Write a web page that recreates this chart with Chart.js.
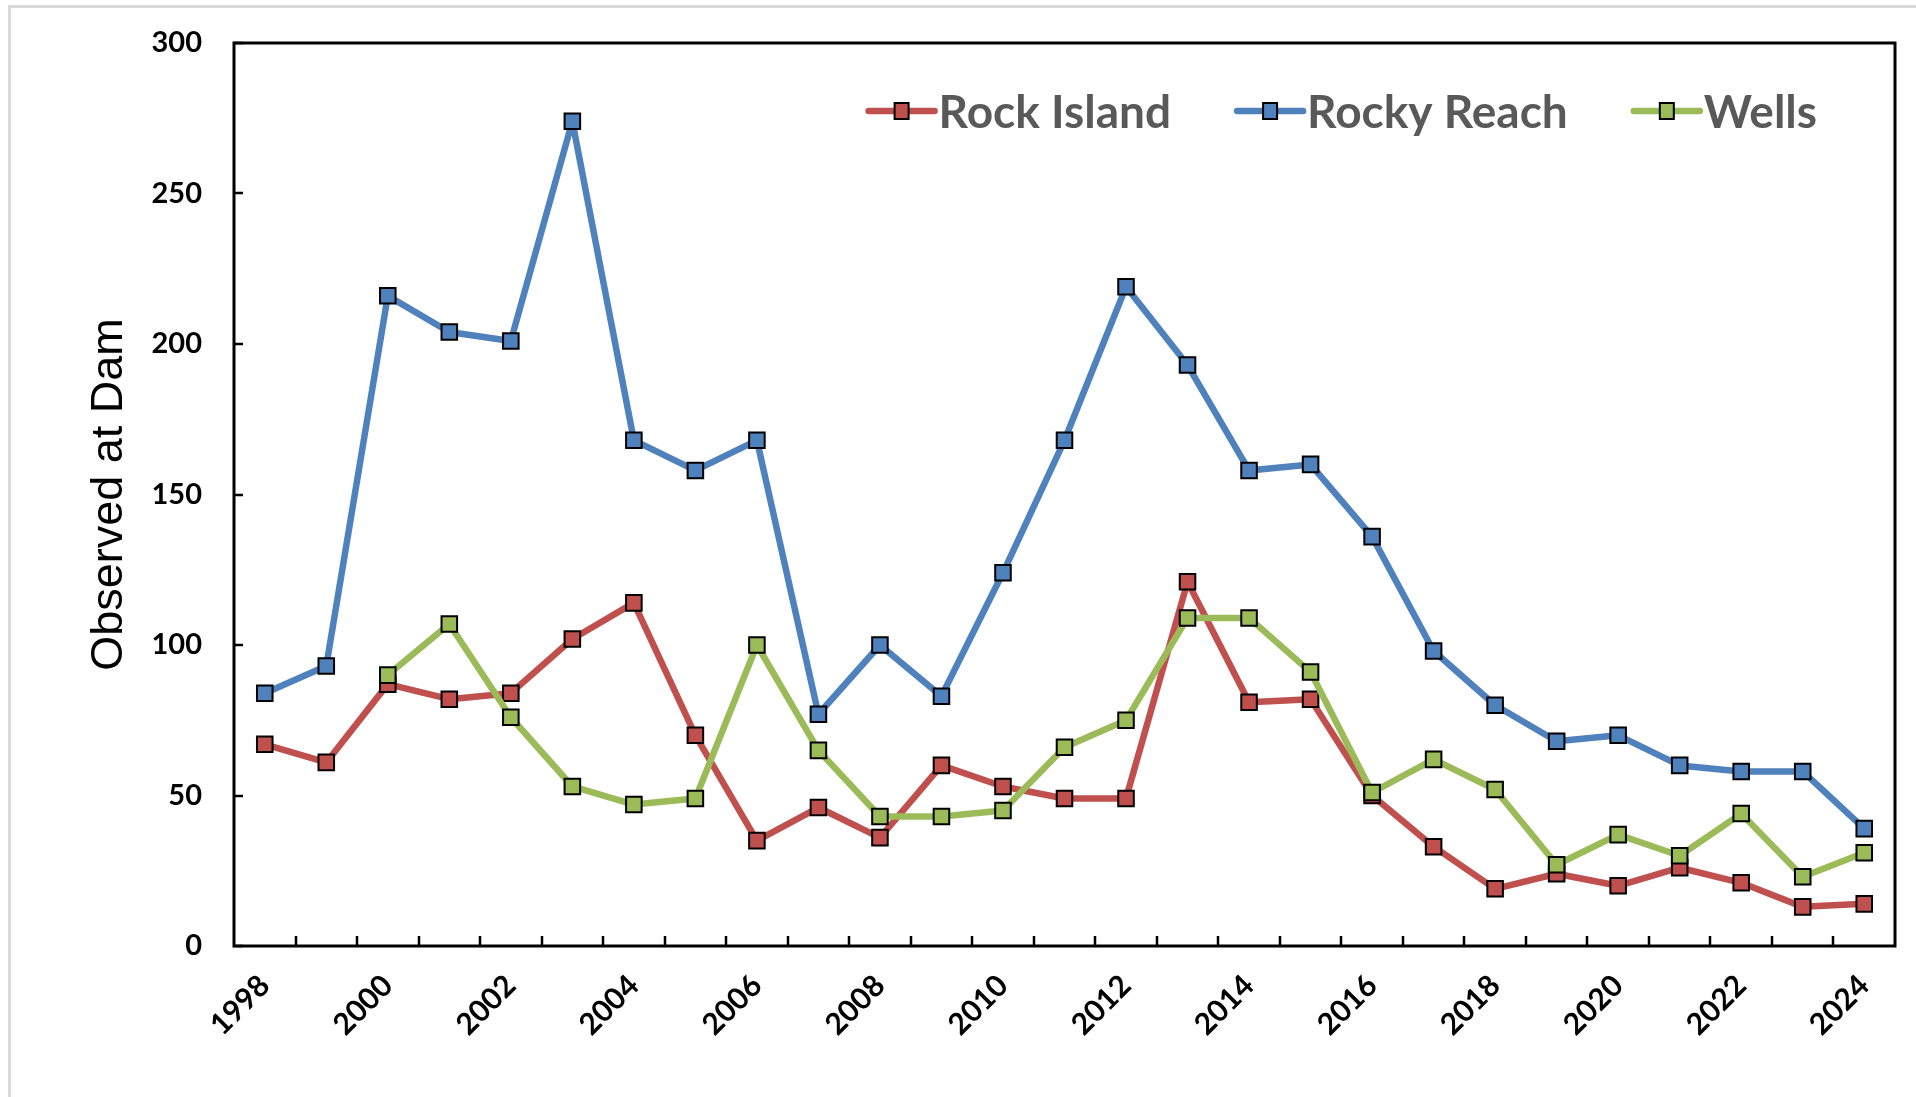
<!DOCTYPE html>
<html>
<head>
<meta charset="utf-8">
<title>Observed at Dam</title>
<script src="https://cdn.jsdelivr.net/npm/chart.js@4.4.0/dist/chart.umd.min.js"></script>
<style>
  html, body { margin: 0; padding: 0; background: #fff; overflow: hidden; }
  #frame { position: absolute; left: 8px; top: 5px; right: 0; bottom: 0; border-left: 3px solid #d9d9d9; border-top: 3px solid #d9d9d9; }
  #chart { position: absolute; left: 0; top: 0; }
</style>
</head>
<body>
<div id="frame"></div>
<canvas id="chart" width="1916" height="1097"></canvas>
<script>
// values
const years = ['1998', '1999', '2000', '2001', '2002', '2003', '2004', '2005', '2006', '2007',
  '2008', '2009', '2010', '2011', '2012', '2013', '2014', '2015', '2016', '2017',
  '2018', '2019', '2020', '2021', '2022', '2023', '2024'];
const rockIsland = [67, 61, 87, 82, 84, 102, 114, 70, 35, 46, 36, 60, 53, 49, 49, 121, 81, 82, 50, 33, 19, 24, 20, 26, 21, 13, 14];
const rockyReach = [84, 93, 216, 204, 201, 274, 168, 158, 168, 77, 100, 83, 124, 168, 219, 193, 158, 160, 136, 98, 80, 68, 70, 60, 58, 58, 39];
const wells = [null, null, 90, 107, 76, 53, 47, 49, 100, 65, 43, 43, 45, 66, 75, 109, 109, 91, 51, 62, 52, 27, 37, 30, 44, 23, 31];
const yTicks = [0, 50, 100, 150, 200, 250, 300];

const RED = '#C0504D';
const BLUE = '#4F81BD';
const GREEN = '#9BBB59';

function series(label, data, color, order) {
  return {
    label,
    data,
    order,
    borderColor: color,
    backgroundColor: color,
    borderWidth: 6.5,
    borderJoinStyle: 'round',
    borderCapStyle: 'round',
    tension: 0,
    pointStyle: 'rect',
    pointRadius: 11,
    pointBackgroundColor: color,
    pointBorderColor: '#000',
    pointBorderWidth: 2,
  };
}

// plot frame plus inward tick marks, like the spreadsheet original
const frameAndTicks = {
  id: 'frameAndTicks',
  beforeDatasetsDraw(chart) {
    const { ctx, chartArea: a, scales: { x, y } } = chart;
    ctx.save();
    ctx.strokeStyle = '#000';
    ctx.lineWidth = 2.5;
    ctx.beginPath();
    for (let i = 1; i < x.ticks.length; i++) {
      const px = Math.round((x.getPixelForTick(i - 1) + x.getPixelForTick(i)) / 2);
      ctx.moveTo(px, a.bottom);
      ctx.lineTo(px, a.bottom - 10);
    }
    y.ticks.forEach((t, i) => {
      const py = Math.round(y.getPixelForTick(i));
      ctx.moveTo(a.left, py);
      ctx.lineTo(a.left + 9, py);
    });
    ctx.stroke();
    ctx.lineWidth = 3;
    ctx.strokeRect(a.left, a.top, a.right - a.left, a.bottom - a.top);
    ctx.restore();
  },
};

// legend sitting inside the plot, top right, line + marker samples
const insideLegend = {
  id: 'insideLegend',
  afterDatasetsDraw(chart) {
    const { ctx, chartArea: a } = chart;
    const cy = a.top + 68;
    const sampleW = 66;
    ctx.save();
    ctx.font = 'bold 46px Lato';
    ctx.textBaseline = 'middle';
    ctx.textAlign = 'left';
    let end = a.right - 78;
    const sets = chart.data.datasets.slice().reverse();
    sets.forEach((ds) => {
      const w = ctx.measureText(ds.label).width;
      const tx = end - w;
      const sx = tx - 4 - sampleW;
      ctx.strokeStyle = ds.borderColor;
      ctx.lineWidth = 6.5;
      ctx.lineCap = 'round';
      ctx.beginPath();
      ctx.moveTo(sx, cy);
      ctx.lineTo(sx + sampleW, cy);
      ctx.stroke();
      ctx.fillStyle = ds.borderColor;
      ctx.fillRect(sx + sampleW / 2 - 7, cy - 8, 14, 16);
      ctx.lineWidth = 2;
      ctx.strokeStyle = '#000';
      ctx.strokeRect(sx + sampleW / 2 - 7, cy - 8, 14, 16);
      ctx.fillStyle = '#595959';
      ctx.fillText(ds.label, tx, cy + 2);
      end = sx - 66;
    });
    ctx.restore();
  },
};

const ctx = document.getElementById('chart').getContext('2d');
new Chart(ctx, {
  type: 'line',
  data: {
    labels: years,
    datasets: [
      series('Rock Island', rockIsland, RED, 3),
      series('Rocky Reach', rockyReach, BLUE, 2),
      series('Wells', wells, GREEN, 1),
    ],
  },
  options: {
    responsive: false,
    animation: false,
    devicePixelRatio: 1,
    layout: { padding: { top: 43, right: 21, left: 0, bottom: 0 } },
    plugins: {
      legend: { display: false },
      tooltip: { enabled: false },
    },
    scales: {
      x: {
        type: 'category',
        offset: true,
        grid: { display: false, drawTicks: false, offset: true },
        border: { display: false },
        ticks: {
          autoSkip: false,
          maxRotation: 45,
          minRotation: 45,
          padding: 22,
          color: '#000',
          font: { family: 'Lato', weight: 'bold', size: 30 },
          callback(value, index) {
            return index % 2 === 0 ? years[index] : '';
          },
        },
        afterFit(scale) { scale.height = 151; },
      },
      y: {
        min: 0,
        max: 300,
        afterBuildTicks(scale) { scale.ticks = yTicks.map((v) => ({ value: v })); },
        grid: { display: false, drawTicks: false },
        border: { display: false },
        ticks: {
          padding: 32,
          color: '#000',
          font: { family: 'Lato', weight: 'bold', size: 29 },
        },
        title: {
          display: true,
          text: 'Observed at Dam',
          color: '#000',
          font: { family: 'Liberation Sans', size: 45 },
          padding: { top: 83, bottom: 0 },
        },
        afterFit(scale) {
          scale.width = 234;
          // the label padding would otherwise push the plot top down
          scale.paddingTop = 0;
          scale.paddingBottom = 0;
        },
      },
    },
  },
  plugins: [frameAndTicks, insideLegend],
});
</script>
</body>
</html>
